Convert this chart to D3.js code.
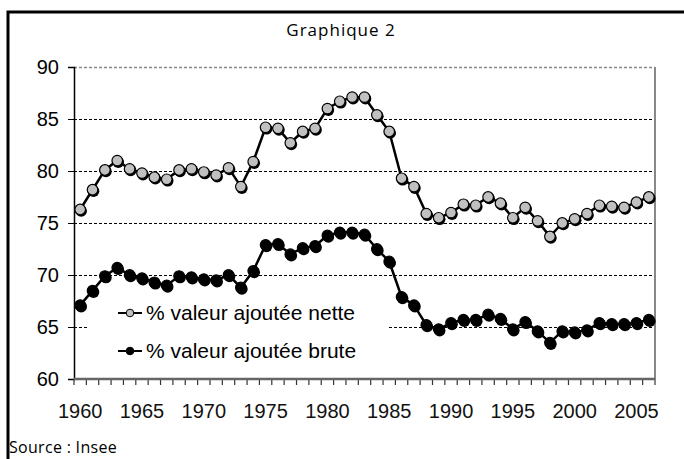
<!DOCTYPE html>
<html>
<head>
<meta charset="utf-8">
<script src="https://cdn.jsdelivr.net/npm/d3@7"></script>
<style>
  body { margin: 0; background: #fff; }
  svg text { font-family: "Liberation Sans", Arial, sans-serif; }
</style>
</head>
<body>
<script>
  // years on the x axis, 1960 to 2006
  let years = d3.range(1960, 2007);

  // % valeur ajoutee nette (grey markers)
  let nette = [76.3, 78.2, 80.1, 81.0, 80.2, 79.8, 79.4, 79.2, 80.1, 80.2,
               79.9, 79.6, 80.3, 78.5, 80.9, 84.2, 84.1, 82.7, 83.8, 84.1,
               86.0, 86.7, 87.1, 87.1, 85.4, 83.8, 79.3, 78.5, 75.9, 75.5,
               76.0, 76.8, 76.7, 77.5, 76.9, 75.5, 76.5, 75.2, 73.7, 75.0,
               75.4, 75.9, 76.7, 76.6, 76.5, 77.0, 77.5];

  // % valeur ajoutee brute (black markers)
  let brute = [67.1, 68.5, 69.9, 70.7, 70.0, 69.7, 69.3, 69.0, 69.9, 69.8,
               69.6, 69.5, 70.0, 68.8, 70.4, 72.9, 73.0, 72.0, 72.6, 72.8,
               73.8, 74.1, 74.1, 73.9, 72.5, 71.3, 67.9, 67.1, 65.2, 64.8,
               65.4, 65.7, 65.7, 66.2, 65.8, 64.8, 65.5, 64.6, 63.5, 64.6,
               64.5, 64.7, 65.4, 65.3, 65.3, 65.4, 65.7];

  let yTicks = [60, 65, 70, 75, 80, 85, 90];
  let xLabels = [1960, 1965, 1970, 1975, 1980, 1985, 1990, 1995, 2000, 2005];

  let series = [
    { name: "% valeur ajoutée nette", values: nette, fill: "#c0c0c0" },
    { name: "% valeur ajoutée brute", values: brute, fill: "#000" }
  ];

  let svg = d3.select("body").append("svg")
    .attr("width", 684)
    .attr("height", 459);

  // outer frame (right and bottom edges fall outside the picture)
  svg.append("rect")
    .attr("x", 8).attr("y", 12)
    .attr("width", 720).attr("height", 520)
    .attr("fill", "none")
    .attr("stroke", "#000")
    .attr("stroke-width", 3);

  svg.append("text")
    .text("Graphique 2")
    .attr("x", 341).attr("y", 36)
    .attr("text-anchor", "middle")
    .style("font-family", "'Open Sans', sans-serif")
    .style("font-size", "17px")
    .style("letter-spacing", "1px");

  svg.append("text")
    .text("Source : Insee")
    .attr("x", 9).attr("y", 453)
    .style("font-family", "'Open Sans', sans-serif")
    .style("font-size", "16px")
    .style("letter-spacing", "0.3px");

  let x = d3.scaleBand()
    .domain(years)
    .range([74, 655]);

  let y = d3.scaleLinear()
    .domain([60, 90])
    .range([379, 67]);

  // dashed gridlines
  svg.append("g")
    .selectAll("line")
    .data(yTicks.filter((d) => d > 60 && d < 90))
    .enter()
    .append("line")
      .attr("x1", 74).attr("x2", 655)
      .attr("y1", (d) => y(d) + 0.5).attr("y2", (d) => y(d) + 0.5)
      .attr("stroke", "#000")
      .attr("stroke-width", 1)
      .attr("shape-rendering", "crispEdges")
      .style("stroke-dasharray", "3,2");

  // plot area border (top and right), grey
  svg.append("line")
    .attr("x1", 74).attr("x2", 655)
    .attr("y1", y(90) + 0.5).attr("y2", y(90) + 0.5)
    .attr("stroke", "#888")
    .attr("stroke-width", 1.5)
    .style("stroke-dasharray", "3,2");
  svg.append("line")
    .attr("x1", 655).attr("x2", 655)
    .attr("y1", y(90)).attr("y2", y(60))
    .attr("stroke", "#888")
    .attr("stroke-width", 2);

  // y axis
  let yAxis = d3.axisLeft(y)
    .tickValues(yTicks)
    .tickSize(6)
    .tickPadding(9);
  let gy = svg.append("g")
    .attr("transform", "translate(74, 0)")
    .call(yAxis);
  gy.select(".domain").attr("stroke-width", 1.5);
  gy.selectAll("text")
    .style("font-size", "20px")
    .style("font-family", "'Liberation Sans', Arial, sans-serif")
    .attr("fill", "#000");

  // x axis: ticks between categories, labels every 5 years
  svg.append("g")
    .selectAll("line")
    .data(years.concat([2007]))
    .enter()
    .append("line")
      .attr("x1", (d, i) => 74 + i * x.bandwidth())
      .attr("x2", (d, i) => 74 + i * x.bandwidth())
      .attr("y1", 379).attr("y2", 385)
      .attr("stroke", "#333")
      .attr("stroke-width", 1.2);

  svg.append("line")
    .attr("x1", 74).attr("x2", 655)
    .attr("y1", 379).attr("y2", 379)
    .attr("stroke", "#666")
    .attr("stroke-width", 2.5);

  svg.append("g")
    .selectAll("text")
    .data(xLabels)
    .enter()
    .append("text")
      .text((d) => d)
      .attr("text-anchor", "middle")
      .attr("x", (d) => x(d) + x.bandwidth() / 2)
      .attr("y", 418)
      .attr("fill", "#111")
      .style("font-size", "20px")
      .style("font-family", "'Liberation Sans Narrow', 'Liberation Sans', sans-serif");

  let line = d3.line()
    .x((d, i) => x(years[i]) + x.bandwidth() / 2)
    .y((d) => y(d));

  // series lines and markers
  series.forEach((s) => {
    svg.append("path")
      .datum(s.values)
      .attr("d", line)
      .attr("fill", "none")
      .attr("stroke", "#000")
      .attr("stroke-width", 2.5);

    let g = svg.append("g");
    g.selectAll(".shadow")
      .data(s.values)
      .enter()
      .append("circle")
        .attr("cx", (d, i) => x(years[i]) + x.bandwidth() / 2 + 1)
        .attr("cy", (d) => y(d) + 1.5)
        .attr("r", 5.8)
        .attr("fill", "#000");
    g.selectAll(".dot")
      .data(s.values)
      .enter()
      .append("circle")
        .attr("cx", (d, i) => x(years[i]) + x.bandwidth() / 2)
        .attr("cy", (d) => y(d))
        .attr("r", 5.3)
        .attr("fill", s.fill)
        .attr("stroke", "#000")
        .attr("stroke-width", 1.2);
  });

  // legend
  let legend = svg.append("g");
  legend.append("rect")
    .attr("x", 88).attr("y", 298)
    .attr("width", 300).attr("height", 70)
    .attr("fill", "#fff");

  series.forEach((s, i) => {
    let ly = 313 + i * 38;
    legend.append("line")
      .attr("x1", 118).attr("x2", 142)
      .attr("y1", ly).attr("y2", ly)
      .attr("stroke", "#000")
      .attr("stroke-width", 2);
    legend.append("circle")
      .attr("cx", 130).attr("cy", ly)
      .attr("r", 3.8)
      .attr("fill", s.fill)
      .attr("stroke", "#000")
      .attr("stroke-width", 1);
    legend.append("text")
      .text(s.name)
      .attr("x", 146).attr("y", ly + 7)
      .style("font-size", "21px");
  });
</script>
</body>
</html>
